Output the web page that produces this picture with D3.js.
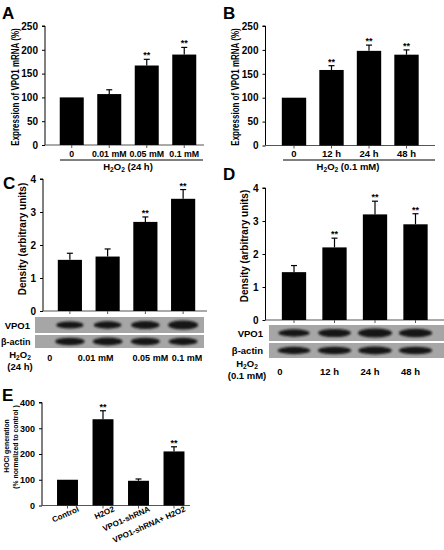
<!DOCTYPE html>
<html><head><meta charset="utf-8">
<script src="https://cdn.jsdelivr.net/npm/d3@7"></script>
<style>
body{margin:0;background:#fff;}
svg{display:block;font-family:"Liberation Sans",Arial,sans-serif;}
text{font-weight:bold;fill:#000;}
</style></head>
<body>
<svg id="chart" width="444" height="550"></svg>
<script>
// ---------- DATA ----------
const catsA = ["0", "0.01 mM", "0.05 mM", "0.1 mM"];
const valsA = [100, 107, 167, 190];
const errA = [0, 9, 13, 15];
const sigA = ["", "", "**", "**"];
const ticksA = [0, 50, 100, 150, 200, 250];

const catsB = ["0", "12 h", "24 h", "48 h"];
const valsB = [100, 158, 198, 190];
const errB = [0, 9, 12, 10];
const sigB = ["", "**", "**", "**"];
const ticksB = [0, 50, 100, 150, 200, 250];

const catsC = ["0", "0.01 mM", "0.05 mM", "0.1 mM"];
const valsC = [1.55, 1.65, 2.7, 3.4];
const errC = [0.2, 0.23, 0.15, 0.28];
const sigC = ["", "", "**", "**"];
const ticksC = [0, 1, 2, 3, 4];
const bandVPO1C = [0.55, 0.6, 0.75, 1.0];
const bandActinC = [0.9, 0.95, 0.85, 0.8];

const catsD = ["0", "12 h", "24 h", "48 h"];
const valsD = [1.45, 2.2, 3.2, 2.9];
const errD = [0.2, 0.28, 0.4, 0.32];
const sigD = ["", "**", "**", "**"];
const ticksD = [0, 1, 2, 3, 4];
const bandVPO1D = [0.6, 0.8, 1.0, 0.9];
const bandActinD = [0.8, 0.9, 0.95, 0.9];

const catsE = ["Control", "H2O2", "VPO1-shRNA", "VPO1-shRNA+ H2O2"];
const valsE = [100, 335, 96, 210];
const errE = [0, 33, 7, 18];
const sigE = ["", "**", "", "**"];
const ticksE = [0, 100, 200, 300, 400];

// ---------- DRAW ----------
const svg = d3.select("#chart");
const defs = svg.append("defs");
defs.append("filter").attr("id","blur").attr("x","-30%").attr("y","-100%").attr("width","160%").attr("height","300%")
  .append("feGaussianBlur").attr("stdDeviation","1.3");

function panel(o){
  const g = svg.append("g");
  const y = d3.scaleLinear().domain([o.ticks[0], o.ticks[o.ticks.length-1]]).range([o.y0, o.y1]);
  const x = d3.scaleBand().domain(o.cats).range(o.xr).paddingInner(o.pad).paddingOuter(o.pad/2);
  const ya = d3.axisLeft(y).tickValues(o.ticks).tickSize(3).tickFormat(d3.format("d"));
  const yg = g.append("g").attr("transform",`translate(${o.ax},0)`).call(ya);
  yg.select(".domain").attr("stroke","#000").attr("d",`M-3,${o.y1}H0V${o.y0}`);
  yg.selectAll(".tick line").attr("stroke","#000");
  yg.selectAll(".tick text").attr("font-size",o.tfs||10).attr("font-family","Liberation Sans, Arial").attr("font-weight","bold").attr("dx","-1");
  g.append("line").attr("x1",o.ax).attr("x2",o.axEnd).attr("y1",o.y0).attr("y2",o.y0).attr("stroke","#555").attr("stroke-width",1);
  g.selectAll(".xt").data(o.cats).enter().append("line")
    .attr("x1",d=>x(d)+x.bandwidth()/2).attr("x2",d=>x(d)+x.bandwidth()/2)
    .attr("y1",o.y0).attr("y2",o.y0+3).attr("stroke","#555");
  g.selectAll(".bar").data(o.vals).enter().append("rect")
    .attr("x",(d,i)=>x(o.cats[i])).attr("width",x.bandwidth())
    .attr("y",d=>y(d)).attr("height",d=>y(0)-y(d)).attr("fill","#000");
  o.vals.forEach((v,i)=>{
    if(!o.err[i]) return;
    const cx = x(o.cats[i])+x.bandwidth()/2;
    g.append("line").attr("x1",cx).attr("x2",cx).attr("y1",y(v)).attr("y2",y(v+o.err[i])).attr("stroke","#000").attr("stroke-width",1.2);
    g.append("line").attr("x1",cx-3).attr("x2",cx+3).attr("y1",y(v+o.err[i])).attr("y2",y(v+o.err[i])).attr("stroke","#000").attr("stroke-width",1.2);
  });
  g.selectAll(".sig").data(o.sig).enter().append("text")
    .attr("x",(d,i)=>x(o.cats[i])+x.bandwidth()/2)
    .attr("y",(d,i)=>y(o.vals[i]+o.err[i])-1)
    .attr("text-anchor","middle").attr("font-size",9).text(d=>d);
  return {g,x,y};
}

// rotated axis title, horizontally condensed by scale factor sx
function ytitle(txt,cx,cy,fs,sx){
  svg.append("text").attr("transform",`translate(${cx},${cy}) rotate(-90) scale(${sx},1)`)
    .attr("text-anchor","middle").attr("dominant-baseline","middle")
    .attr("font-size",fs).text(txt);
}
function plabel(t,x,y){
  svg.append("text").attr("x",x).attr("y",y).attr("font-size",17).attr("font-weight","normal").text(t);
}
function h2o2(parent,x,y,rest,fs,anchor){
  const t = parent.append("text").attr("x",x).attr("y",y).attr("font-size",fs).attr("text-anchor",anchor||"middle");
  t.append("tspan").text("H");
  t.append("tspan").attr("font-size",fs*0.7).attr("dy",2).text("2");
  t.append("tspan").attr("dy",-2).text("O");
  t.append("tspan").attr("font-size",fs*0.7).attr("dy",2).text("2");
  t.append("tspan").attr("dy",-2).text(rest);
  return t;
}

// ---- A ----
plabel("A",2,19);
const A = panel({cats:catsA,vals:valsA,err:errA,sig:sigA,ticks:ticksA,y0:145,y1:26,xr:[53,203],pad:0.36,ax:45,axEnd:204});
A.g.selectAll(".xl").data(catsA).enter().append("text")
  .attr("x",d=>A.x(d)+A.x.bandwidth()/2).attr("y",157).attr("text-anchor","middle").attr("font-size",8.8).text(d=>d);
A.g.append("line").attr("x1",60).attr("x2",203).attr("y1",160).attr("y2",160).attr("stroke","#000");
h2o2(A.g,128,169.5," (24 h)",9.5);
ytitle("Expression of VPO1 mRNA (%)",16,87,10,0.8);

// ---- B ----
plabel("B",223,19);
const B = panel({cats:catsB,vals:valsB,err:errB,sig:sigB,ticks:ticksB,y0:145.5,y1:26,xr:[275.25,425.25],pad:0.35,ax:265.5,axEnd:435});
B.g.selectAll(".xl").data(catsB).enter().append("text")
  .attr("x",d=>B.x(d)+B.x.bandwidth()/2).attr("y",157).attr("text-anchor","middle").attr("font-size",9.5).text(d=>d);
B.g.append("line").attr("x1",283).attr("x2",435).attr("y1",160).attr("y2",160).attr("stroke","#000");
h2o2(B.g,348,169.5," (0.1 mM)",9.5);
ytitle("Expression of VPO1 mRNA (%)",236,87,10,0.8);

// ---- blots ----
function blot(P,cats,bands,x0,x1,yTop,yBot,bandW,bandH){
  const g = svg.append("g");
  g.append("rect").attr("x",x0).attr("y",yTop).attr("width",x1-x0).attr("height",yBot-yTop).attr("fill","#a6a6a6");
  g.selectAll(".band").data(bands).enter().append("ellipse")
    .attr("cx",(d,i)=>P.x(cats[i])+P.x.bandwidth()/2)
    .attr("cy",(yTop+yBot)/2)
    .attr("rx",d=>bandW*(0.8+0.2*d)/2)
    .attr("ry",d=>bandH*(0.55+0.45*d)/2)
    .attr("fill","#141414").attr("filter","url(#blur)");
}

// ---- C ----
plabel("C",3,189);
const C = panel({cats:catsC,vals:valsC,err:errC,sig:sigC,ticks:ticksC,y0:311,y1:179,xr:[51,202],pad:0.36,ax:43,axEnd:207});
ytitle("Density (arbitrary units)",23,239,10.5,0.95);
blot(C,catsC,bandVPO1C,35,204,317,333,30,9);
blot(C,catsC,bandActinC,35,204,335,348,30,8);
svg.append("text").attr("x",30).attr("y",329).attr("text-anchor","end").attr("font-size",9.5).text("VPO1");
svg.append("text").attr("x",1).attr("y",345).attr("text-anchor","start").attr("font-size",9).text("β-actin");
h2o2(svg,20,358," ",9.5);
svg.append("text").attr("x",20).attr("y",370).attr("text-anchor","middle").attr("font-size",9.5).text("(24 h)");
const offC = [-20, -12, 5, 4];
svg.selectAll(".cl").data(catsC).enter().append("text")
  .attr("x",(d,i)=>C.x(d)+C.x.bandwidth()/2 + offC[i]).attr("y",361).attr("text-anchor","middle").attr("font-size",9).text(d=>d);

// ---- D ----
plabel("D",223,180);
const D = panel({cats:catsD,vals:valsD,err:errD,sig:sigD,ticks:ticksD,y0:320,y1:188,xr:[273.75,435.75],pad:0.4,ax:265.5,axEnd:444});
ytitle("Density (arbitrary units)",245,246,10.5,0.95);
blot(D,catsD,bandVPO1D,269,444,325,341,34,9);
blot(D,catsD,bandActinD,269,444,343,358,34,8);
svg.append("text").attr("x",263).attr("y",337).attr("text-anchor","end").attr("font-size",9.5).text("VPO1");
svg.append("text").attr("x",263).attr("y",354).attr("text-anchor","end").attr("font-size",9.5).text("β-actin");
h2o2(svg,247,367," ",9.5);
svg.append("text").attr("x",247).attr("y",379).attr("text-anchor","middle").attr("font-size",9.5).text("(0.1 mM)");
svg.selectAll(".dl").data(catsD).enter().append("text")
  .attr("x",(d,i)=>D.x(d)+D.x.bandwidth()/2 + (i===0?-14:-5)).attr("y",375).attr("text-anchor","middle").attr("font-size",9.5).text(d=>d);

// ---- E ----
plabel("E",2,401);
const E = panel({cats:catsE,vals:valsE,err:errE,sig:sigE,ticks:ticksE,y0:505.5,y1:402.5,xr:[49.75,191.75],pad:0.41,ax:42,axEnd:190,tfs:9});
E.g.selectAll(".xl").data(catsE).enter().append("text")
  .attr("transform",d=>`translate(${E.x(d)+E.x.bandwidth()/2+12},${511}) rotate(-24)`)
  .attr("text-anchor","end").attr("font-size",8).text(d=>d);
ytitle("HOCl generation",7,446,8,0.85);
ytitle("(% normalized to control )",16,447,8,0.85);
</script>
</body></html>
